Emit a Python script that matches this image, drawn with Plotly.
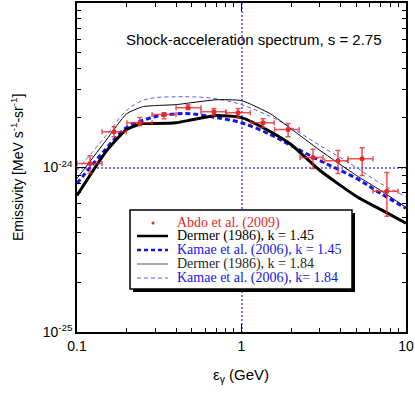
import plotly.graph_objects as go

energy = [0.1, 0.15, 0.2, 0.25, 0.3, 0.4, 0.5, 0.7, 1.0, 1.5, 2, 3, 5, 7, 10]

# model emissivities, in units of 1e-24 MeV s^-1 sr^-1
dermer_145 = [0.676, 1.25, 1.70, 1.85, 1.85, 1.87, 1.95, 2.07, 2.01, 1.65, 1.38, 0.959, 0.667, 0.556, 0.458]
kamae_145 = [0.80, 1.30, 1.75, 1.93, 2.04, 2.12, 2.12, 2.01, 1.87, 1.585, 1.36, 1.10, 0.858, 0.696, 0.565]
dermer_184 = [0.858, 1.46, 2.12, 2.34, 2.38, 2.41, 2.48, 2.58, 2.55, 2.12, 1.72, 1.27, 0.894, 0.726, 0.572]
kamae_184 = [0.959, 1.56, 2.22, 2.55, 2.66, 2.69, 2.69, 2.62, 2.41, 2.04, 1.75, 1.36, 1.0, 0.80, 0.667]

# Abdo et al. (2009) data points
abdo_e = [0.12, 0.168, 0.241, 0.338, 0.473, 0.68, 0.953, 1.35, 1.92, 2.72, 3.86, 5.41, 7.65]
abdo_e_lo = [0.1, 0.142, 0.201, 0.286, 0.400, 0.567, 0.805, 1.14, 1.59, 2.27, 3.21, 4.44, 6.3]
abdo_e_hi = [0.142, 0.199, 0.286, 0.400, 0.567, 0.805, 1.13, 1.58, 2.24, 3.13, 4.44, 6.3, 8.94]
abdo_j = [1.057, 1.65, 1.87, 2.10, 2.31, 2.18, 2.15, 1.87, 1.70, 1.15, 1.10, 1.13, 0.716]
abdo_j_lo = [0.92, 1.54, 1.80, 1.98, 2.25, 2.07, 2.01, 1.75, 1.54, 0.986, 0.92, 0.894, 0.505]
abdo_j_hi = [1.18, 1.77, 2.01, 2.15, 2.41, 2.28, 2.28, 1.98, 1.85, 1.29, 1.27, 1.32, 0.933]

UNIT = 1e-24

legend_labels = ['Abdo et al. (2009)', 'Dermer (1986), k = 1.45', 'Kamae et al. (2006), k = 1.45',
                 'Dermer (1986), k = 1.84', 'Kamae et al. (2006), k= 1.84']

RED = 'rgb(230,40,40)'
BLUE = 'rgb(20,20,230)'
LBLUE = 'rgb(90,90,245)'
GRID = 'rgb(120,120,255)'

W, H = 415, 395
L, R, T, B = 77, 9, 3, 63
PW, PH = W - L - R, H - T - B


def px(x):
    return (x - L) / PW


def py(y):
    return (H - B - y) / PH


def scale(v):
    return [a * UNIT for a in v]


fig = go.Figure()

fig.add_trace(go.Scatter(x=energy, y=scale(kamae_184), mode='lines',
                         line=dict(color=LBLUE, width=1, dash='4px,3px', shape='spline'),
                         name=legend_labels[4], showlegend=False))
fig.add_trace(go.Scatter(x=energy, y=scale(dermer_184), mode='lines',
                         line=dict(color='black', width=1, shape='spline', smoothing=0.5),
                         name=legend_labels[3], showlegend=False))
fig.add_trace(go.Scatter(x=energy, y=scale(kamae_145), mode='lines',
                         line=dict(color=BLUE, width=3, dash='5px,3px', shape='spline'),
                         name=legend_labels[2], showlegend=False))
fig.add_trace(go.Scatter(x=energy, y=scale(dermer_145), mode='lines',
                         line=dict(color='black', width=3, shape='spline', smoothing=0.5),
                         name=legend_labels[1], showlegend=False))

fig.add_trace(go.Scatter(
    x=abdo_e, y=scale(abdo_j), mode='markers',
    marker=dict(color=RED, size=5),
    error_x=dict(type='data', symmetric=False,
                 array=[h - e for h, e in zip(abdo_e_hi, abdo_e)],
                 arrayminus=[e - l for l, e in zip(abdo_e_lo, abdo_e)],
                 color='rgba(230,40,40,0.8)', thickness=1.5, width=2.5),
    error_y=dict(type='data', symmetric=False,
                 array=[(h - j) * UNIT for h, j in zip(abdo_j_hi, abdo_j)],
                 arrayminus=[(j - l) * UNIT for l, j in zip(abdo_j_lo, abdo_j)],
                 color='rgba(230,40,40,0.8)', thickness=1.5, width=2.5),
    name=legend_labels[0], showlegend=False))

axis_common = dict(type='log', showline=True, linecolor='black', linewidth=1.5, mirror='ticks',
                   ticks='inside', ticklen=8, tickcolor='black', tickwidth=1, automargin=False,
                   showgrid=True, gridcolor=GRID, griddash='2px,2px', gridwidth=1.5, zeroline=False,
                   tickfont=dict(family='Liberation Sans', size=14, color='black'),
                   minor=dict(ticks='inside', ticklen=4, tickcolor='black', dtick='D1', showgrid=False))

fig.update_xaxes(range=[-1, 1], tickvals=[0.1, 1, 10], ticktext=['0.1', '1', '10'], **axis_common)
fig.update_yaxes(range=[-25, -23], tickvals=[1e-25, 1e-24, 1e-23],
                 ticktext=['10<sup>-25</sup>', '10<sup>-24</sup>', ''], **axis_common)

annotations = [
    dict(text='Shock-acceleration spectrum, s = 2.75', x=px(254), y=py(39), xref='paper', yref='paper',
         xanchor='center', yanchor='middle', showarrow=False,
         font=dict(family='Liberation Sans', size=15, color='black')),
    dict(text='ε<sub>γ</sub> (GeV)', x=px(241), y=py(376), xref='paper', yref='paper',
         xanchor='center', yanchor='middle', showarrow=False,
         font=dict(family='Liberation Sans', size=15, color='black')),
    dict(text='Emissivity [MeV s<sup>-1</sup>-sr<sup>-1</sup>]', x=px(17), y=py(168),
         xref='paper', yref='paper', xanchor='center', yanchor='middle', textangle=-90,
         showarrow=False, font=dict(family='Liberation Sans', size=14, color='black')),
]

# hand-drawn legend box with shadow
shapes = [
    dict(type='rect', xref='paper', yref='paper', x0=px(133), x1=px(355), y0=py(292), y1=py(213),
         fillcolor='black', line=dict(width=0)),
    dict(type='rect', xref='paper', yref='paper', x0=px(130), x1=px(352), y0=py(289), y1=py(210),
         fillcolor='white', line=dict(color='black', width=1.5)),
]

rows_y = [223, 236, 250, 264, 278]
text_colors = [RED, 'black', BLUE, 'rgb(40,40,40)', BLUE]
samples = [None,
           dict(color='black', width=2.5),
           dict(color=BLUE, width=2.5, dash='4px,3px'),
           dict(color='rgb(170,170,170)', width=2),
           dict(color=LBLUE, width=1, dash='4px,3px')]
for lab, yy, col, smp in zip(legend_labels, rows_y, text_colors, samples):
    annotations.append(dict(text=lab, x=px(175), y=py(yy), xref='paper', yref='paper',
                            xanchor='left', yanchor='middle', showarrow=False,
                            font=dict(family='Liberation Serif', size=14, color=col)))
    if smp is None:
        shapes.append(dict(type='circle', xref='paper', yref='paper', x0=px(151.5), x1=px(154.5),
                           y0=py(yy + 1.5), y1=py(yy - 1.5), fillcolor=RED, line=dict(width=0)))
    else:
        shapes.append(dict(type='line', xref='paper', yref='paper', x0=px(137), x1=px(168),
                           y0=py(yy), y1=py(yy), line=smp))

fig.update_layout(width=W, height=H, margin=dict(l=L, r=R, t=T, b=B, autoexpand=False),
                  paper_bgcolor='white', plot_bgcolor='white',
                  annotations=annotations, shapes=shapes, showlegend=False)

# the page body has a default 8px margin; drop it so the figure sits at the corner
fig.write_html('out.html', config={'displayModeBar': False},
               post_script="document.body.style.margin='0px';")
